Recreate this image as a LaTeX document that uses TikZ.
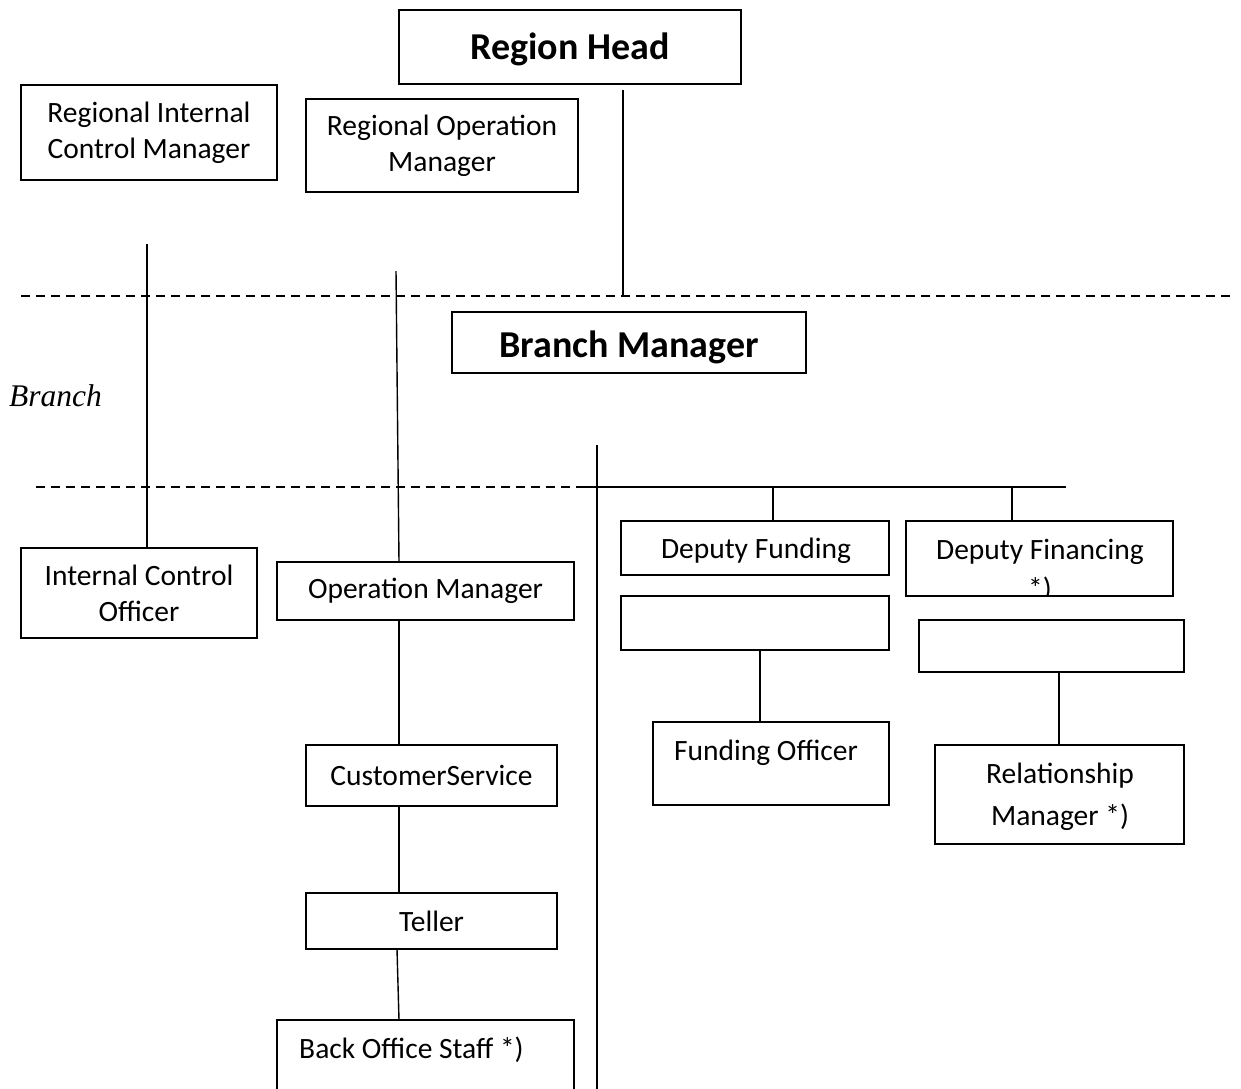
\documentclass[tikz,border=0pt]{standalone}
\usepackage{fontspec}
\setmainfont{Carlito}
\newfontfamily\serifit{Liberation Serif}
\begin{document}
\begin{tikzpicture}[x=1pt,y=-1pt,
  box/.style={draw, line width=1.4pt, inner sep=0pt, align=center, font=\fontsize{29.5}{36}\selectfont},
  big/.style={font=\bfseries\fontsize{38}{44}\selectfont},
  conn/.style={line width=1.4pt},
  sepline/.style={line width=1.3pt, dash pattern=on 9pt off 6pt},
  txt/.style={inner sep=0pt, font=\fontsize{29.5}{36}\selectfont}]
\useasboundingbox (0,0) rectangle (1241,1088);
\fill[white] (0,0) rectangle (1241,1088);

% top level
\node[box, minimum width=342pt, minimum height=74pt] (rh) at (570,47) {};
\node[txt, big] (rht) at (570,49) {Region Head};
\node[box, minimum width=256pt, minimum height=95pt] (ricm) at (149,132.5) {Regional Internal\\Control Manager};
\node[box, minimum width=272pt, minimum height=93pt] (rom) at (442,145.5) {Regional Operation\\Manager};

% branch
\node[box, minimum width=354pt, minimum height=61pt] (bm) at (629,342.5) {};
\node[txt, big] (bmt) at (629,347) {Branch Manager};
\node[inner sep=0pt, anchor=west, font=\serifit\itshape\fontsize{31.5}{36}\selectfont] (branch) at (9,396) {Branch};

% left columns
\node[box, minimum width=236pt, minimum height=90pt] (ico) at (139,593) {Internal Control\\Officer};
\node[box, minimum width=297pt, minimum height=58pt] (om) at (425.5,591) {Operation Manager};
\node[box, minimum width=251pt, minimum height=61pt] (cs) at (431.5,775.5) {CustomerService};
\node[box, minimum width=251pt, minimum height=56pt] (tel) at (431.5,921) {Teller};
\node[box, minimum width=297pt, minimum height=100pt] (bos) at (425.5,1070) {};
\node[txt, anchor=west] (bost) at (299,1050) {Back Office Staff *)};

% right columns
\node[box, minimum width=268pt, minimum height=54pt] (dfund) at (755,548) {};
\node[txt] (dfundt) at (756,551) {Deputy Funding};
\node[box, minimum width=267pt, minimum height=75pt] (dfin) at (1039.5,558.5) {};
\node[txt] (dfint) at (1040,552) {Deputy Financing};
\begin{scope}
\clip (dfin.south west) rectangle (dfin.north east);
\node[txt, anchor=base] (dfinstar) at (1040,598) {*)};
\end{scope}
\node[box, minimum width=268pt, minimum height=54pt] (e1) at (755,623) {};
\node[box, minimum width=265pt, minimum height=52pt] (e2) at (1051.5,646) {};
\node[box, minimum width=236pt, minimum height=83pt] (fo) at (771,763.5) {};
\node[txt] (fot) at (766,753) {Funding Officer};
\node[box, minimum width=249pt, minimum height=99pt] (rm) at (1059.5,794.5) {};
\node[txt, align=center, font=\fontsize{29.5}{42}\selectfont] (rmt) at (1060,797) {Relationship\\Manager *)};

% separators
\coordinate (s1a) at (21,296);
\coordinate (s1b) at (1233,296);
\coordinate (s2a) at (36,487);
\coordinate (s2b) at (583,487);
\draw[sepline] (s1a) -- (s1b);
\draw[sepline] (s2a) -- (s2b);

% connectors
\coordinate (rhA) at (623,90);
\coordinate (rhB) at (623,296);
\draw[conn] (rhA) -- (rhB);

\coordinate (icA) at (147,244);
\draw[conn] (icA) -- (icA |- ico.north);

\coordinate (omA) at (396,271);
\coordinate (omB) at (399,562);
\draw[conn] (omA) -- (omB);

\coordinate (busL) at (583,487);
\coordinate (busR) at (1066,487);
\draw[conn] (busL) -- (busR);
\coordinate (vA) at (597,445);
\coordinate (vB) at (597,1095);
\draw[conn] (vA) -- (vB);

\coordinate (dfA) at (773,487);
\draw[conn] (dfA) -- (dfA |- dfund.north);
\coordinate (dnA) at (1012,487);
\draw[conn] (dnA) -- (dnA |- dfin.north);

\coordinate (foA) at (760,650);
\draw[conn] (foA |- e1.south) -- (foA |- fo.north);
\coordinate (rmA) at (1059,672);
\draw[conn] (rmA |- e2.south) -- (rmA |- rm.north);

\coordinate (opA) at (399,620);
\draw[conn] (opA |- om.south) -- (opA |- cs.north);
\draw[conn] (opA |- cs.south) -- (opA |- tel.north);
\coordinate (tA) at (397,949);
\coordinate (tB) at (399,1020);
\draw[conn] (tA) -- (tB);
\end{tikzpicture}
\end{document}
